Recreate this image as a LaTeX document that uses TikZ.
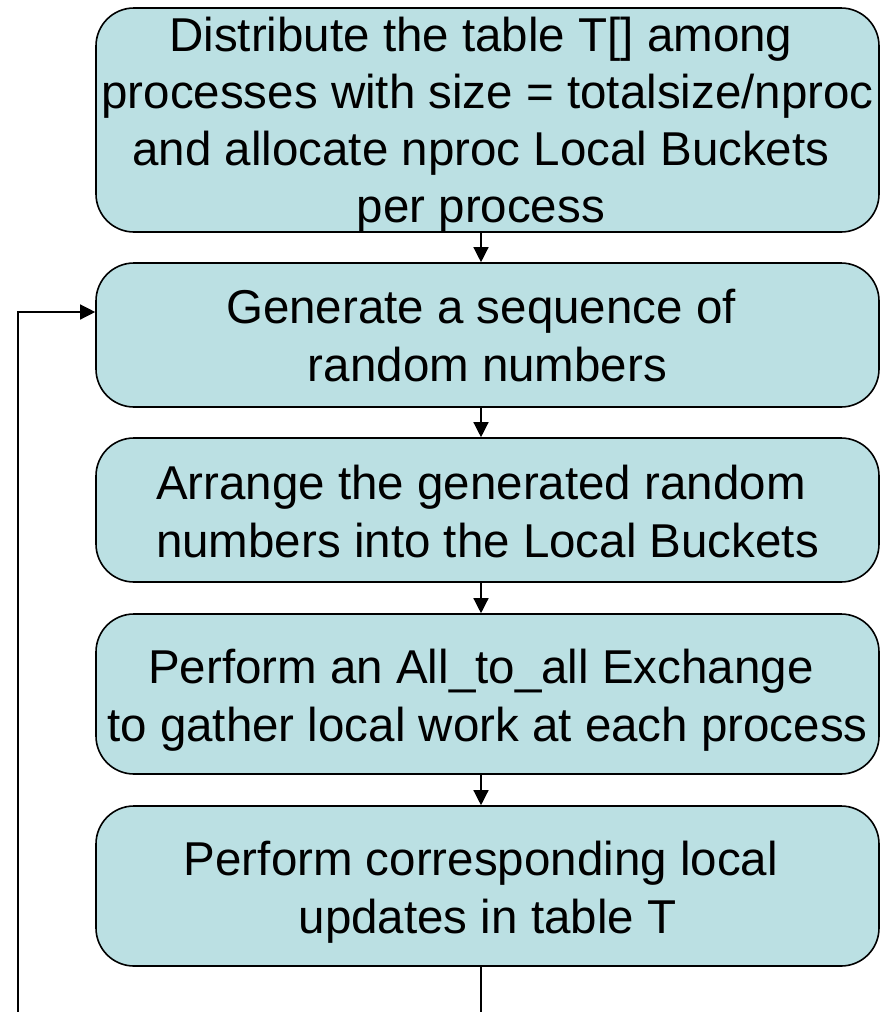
\documentclass[tikz,border=0pt]{standalone}
\usepackage{fontspec}
\setmainfont{Liberation Sans}
\usetikzlibrary{arrows.meta}
\definecolor{boxfill}{HTML}{BBE0E3}
\newcommand\tsp{\rule{13.2pt}{0pt}}
\newcommand\tb[2]{\raisebox{#1}[0pt][0pt]{\begin{tabular}[t]{@{}c@{}}#2\end{tabular}}}
\begin{document}
\begin{tikzpicture}[x=1pt,y=-1pt,
  stepbox/.style={draw=black, line width=1.6pt, fill=boxfill, rounded corners=38pt,
    minimum width=783pt, inner sep=0pt,
    font=\fontsize{47.5}{58}\selectfont},
  conn/.style={line width=1.3pt, -{Triangle[length=15pt,width=15pt]}}]
\useasboundingbox (0,0) rectangle (884,1012);
\node[stepbox, minimum height=224pt, font=\fontsize{47.5}{57.3}\selectfont] (b1) at (487.5,120) {\tb{69pt}{Distribute the table T[] among\tsp\\processes with size = totalsize/nproc\\and allocate nproc Local Buckets\tsp\\per process\tsp}};
\node[stepbox, minimum height=144pt] (b2) at (487.5,335) {\tb{12pt}{Generate a sequence of\tsp\\random numbers}};
\node[stepbox, minimum height=144pt] (b3) at (487.5,510) {\tb{11pt}{Arrange the generated random\tsp\\numbers into the Local Buckets}};
\node[stepbox, minimum height=160pt] (b4) at (487.5,694) {\tb{11pt}{Perform an All\_to\_all Exchange\tsp\\to gather local work at each process}};
\node[stepbox, minimum height=160pt] (b5) at (487.5,886) {\tb{11pt}{Perform corresponding local\tsp\\updates in table T}};
\coordinate (bend) at (481,1012);
\coordinate (lbot) at (18,1012);
\coordinate (ltop) at (18,312);
\draw[conn] (b1.south -| bend) -- (b2.north -| bend);
\draw[conn] (b2.south -| bend) -- (b3.north -| bend);
\draw[conn] (b3.south -| bend) -- (b4.north -| bend);
\draw[conn] (b4.south -| bend) -- (b5.north -| bend);
\draw[line width=1.3pt] (b5.south -| bend) -- (bend);
\draw[conn] (lbot) -- (ltop) -- (ltop -| b2.west);
\end{tikzpicture}
\end{document}
